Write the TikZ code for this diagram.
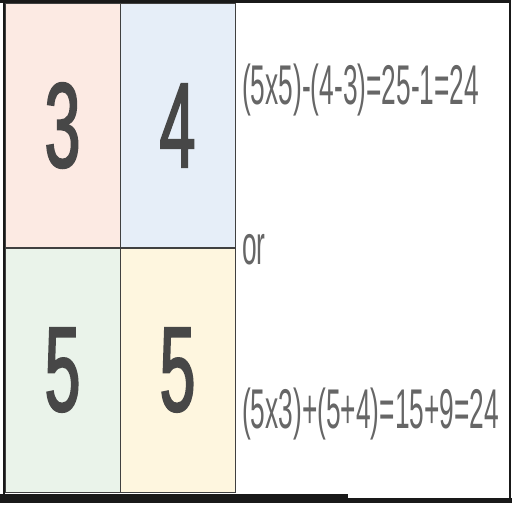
\documentclass[tikz,border=0pt]{standalone}
\usepackage{fontspec}
\setmainfont{Liberation Sans}
\newfontfamily\digitfont[FakeStretch=0.53,FakeBold=1.5]{Liberation Sans}
\newfontfamily\sumfont[FakeStretch=0.47]{Liberation Sans}
\definecolor{cellpink}{HTML}{FCEAE3}
\definecolor{cellblue}{HTML}{E6EEF8}
\definecolor{cellgreen}{HTML}{EAF3EA}
\definecolor{cellyellow}{HTML}{FEF6DF}
\tikzstyle{cell}=[draw=black!75,line width=0.7pt,minimum width=115pt,minimum height=244pt,inner sep=0pt,text=black!72,font=\digitfont\fontsize{121}{121}\selectfont]
\tikzstyle{sum}=[anchor=west,inner sep=0pt,text=black!60,font=\sumfont\fontsize{56}{56}\selectfont]
\tikzstyle{frame}=[draw=black!90]

\begin{document}
\begin{tikzpicture}[x=1pt,y=-1pt]
	\useasboundingbox (0,0) rectangle (512,512);
	\node [style=cell,fill=cellpink] (tl) at (62.5,125.5) {3};
	\node [style=cell,fill=cellblue] (tr) at (177.5,125.5) {4};
	\node [style=cell,fill=cellgreen] (bl) at (62.5,370) {5};
	\node [style=cell,fill=cellyellow] (br) at (177.5,370) {5};
	\node [style=sum] (first) at (242,90) {(5x5)-(4-3)=25-1=24};
	\node [style=sum] (or) at (242,250) {or};
	\node [style=sum] (second) at (242,414) {(5x3)+(5+4)=15+9=24};
	\draw [style=frame,line width=2.5pt] (0,1.5) -- (511,1.5);
	\draw [style=frame,line width=2.5pt] (4,0) -- (4,497);
	\draw [style=frame,line width=1.5pt] (510,0) -- (510,500);
	\draw [style=frame,line width=9pt] (0,498.5) -- (348,498.5);
	\draw [style=frame,line width=5pt] (348,500) -- (512,500);
\end{tikzpicture}
\end{document}
